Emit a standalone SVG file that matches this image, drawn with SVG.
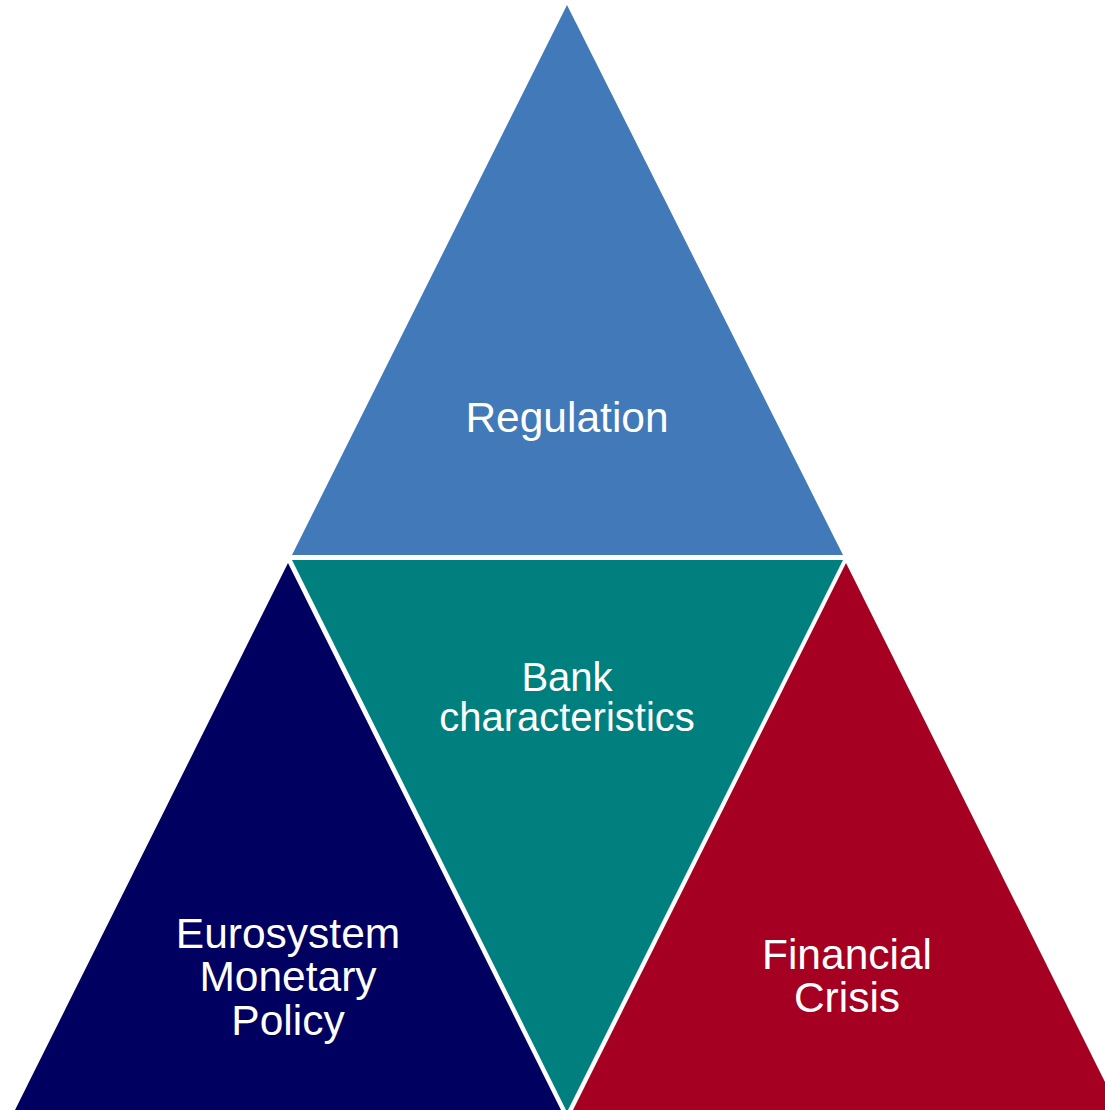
<svg xmlns="http://www.w3.org/2000/svg" width="1105" height="1110" viewBox="0 0 1105 1110">
<style>
.t{font-family:"Liberation Sans",Arial,sans-serif;font-size:42.5px;fill:#ffffff;text-anchor:middle}
.s{font-size:40px}
</style>
<rect width="1105" height="1110" fill="#ffffff"/>
<g id="regulation">
<polygon points="567,5 292,555 843,555" fill="#4279B8"/>
<text class="t" x="567" y="432">Regulation</text>
</g>
<g id="bank">
<polygon points="292,560 843,560 567,1112" fill="#007F7F"/>
<text class="t s" x="567" y="691">Bank</text>
<text class="t s" x="567" y="731">characteristics</text>
</g>
<g id="monetary">
<polygon points="288,563 14,1112 562,1112" fill="#000060"/>
<text class="t" x="288" y="948">Eurosystem</text>
<text class="t" x="288" y="991">Monetary</text>
<text class="t" x="288" y="1035">Policy</text>
</g>
<g id="crisis">
<polygon points="846,563 572,1112 1120,1112" fill="#A50021"/>
<text class="t" x="847" y="969">Financial</text>
<text class="t" x="847" y="1012">Crisis</text>
</g>
<g id="connectors"></g>
</svg>
